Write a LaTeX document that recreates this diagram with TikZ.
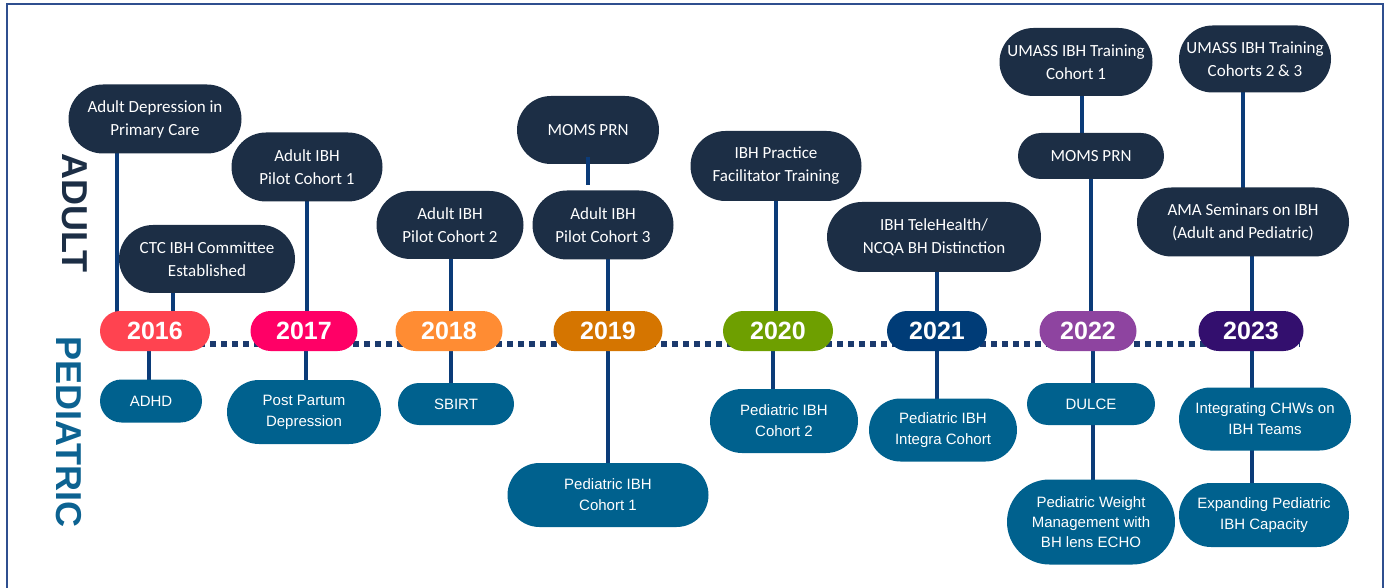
\documentclass[tikz,border=0pt]{standalone}
\usepackage{fontspec}
\usetikzlibrary{shapes.misc,backgrounds}
\newfontfamily\calf{Carlito}
\newfontfamily\arif{Liberation Sans}
\definecolor{adultc}{HTML}{1C2E45}
\definecolor{pedc}{HTML}{00618E}
\definecolor{linec}{HTML}{0B3B78}
\definecolor{dotc}{HTML}{1B3A6D}
\definecolor{framec}{HTML}{2F4F8F}
\definecolor{pedtext}{HTML}{0C6291}
\definecolor{c16}{HTML}{FF4350}
\definecolor{c17}{HTML}{FF0066}
\definecolor{c18}{HTML}{FF8C33}
\definecolor{c19}{HTML}{D57500}
\definecolor{c20}{HTML}{6E9F00}
\definecolor{c21}{HTML}{003C77}
\definecolor{c22}{HTML}{8E44A0}
\definecolor{c23}{HTML}{330F6E}
\begin{document}
\begin{tikzpicture}[x=1pt,y=-1pt,
  pill/.style={rounded rectangle, inner sep=0pt, align=center, text=white},
  adult/.style={pill, fill=adultc, font=\calf\fontsize{17}{23}\selectfont},
  ped/.style={pill, fill=pedc, font=\arif\fontsize{15}{21}\selectfont},
  ped3/.style={pill, fill=pedc, font=\arif\fontsize{15}{20}\selectfont},
  year/.style={pill, font=\arif\bfseries\fontsize{25}{25}\selectfont, minimum height=40pt},
  conn/.style={draw=linec, line width=3.2pt},
  sz/.style 2 args={minimum width=#1pt, minimum height=#2pt},
  side/.style={font=\arif\bfseries\fontsize{36}{36}\selectfont, rotate=-90, inner sep=0pt}]
\useasboundingbox (0,0) rectangle (1385,588);
\draw[framec, line width=1.3pt] (7,588) -- (7,4) -- (1383,4) -- (1383,588);

% side labels
\node[side, text=adultc] (ladult) at (75,213) {ADULT};
\node[side, text=pedtext] (lped) at (69,432) {PEDIATRIC};

% years
\node[year, fill=c16, minimum width=110pt] (y16) at (155,331) {2016};
\node[year, fill=c17, minimum width=107pt] (y17) at (304,331) {2017};
\node[year, fill=c18, minimum width=107pt] (y18) at (449,331) {2018};
\node[year, fill=c19, minimum width=109pt] (y19) at (608,331) {2019};
\node[year, fill=c20, minimum width=110pt] (y20) at (778,331) {2020};
\node[year, fill=c21, minimum width=100pt] (y21) at (937,331) {2021};
\node[year, fill=c22, minimum width=97pt] (y22) at (1088,331) {2022};
\node[year, fill=c23, minimum width=105pt] (y23) at (1251,331) {2023};

% adult boxes
\node[adult, sz={173}{69}] (ad1) at (155,119) {Adult Depression in\\Primary Care};
\node[adult, sz={176}{68}] (ctc) at (207,259) {CTC IBH Committee\\Established};
\node[adult, sz={151}{69}] (ap1) at (307,167) {Adult IBH\\Pilot Cohort 1};
\node[adult, sz={147}{68}] (ap2) at (450,225) {Adult IBH\\Pilot Cohort 2};
\node[adult, sz={142}{68}] (mo19) at (588,130) {MOMS PRN};
\node[adult, sz={141}{69}] (ap3) at (603,225) {Adult IBH\\Pilot Cohort 3};
\node[adult, sz={171}{70}] (ibhp) at (776,166) {IBH Practice\\Facilitator Training};
\node[adult, sz={214}{70}] (tele) at (934,237) {IBH TeleHealth/\\NCQA BH Distinction};
\node[adult, sz={153}{68}] (um1) at (1076,62) {UMASS IBH Training\\Cohort 1};
\node[adult, sz={146}{46}] (mo22) at (1091,156) {MOMS PRN};
\node[adult, sz={152}{67}] (um23) at (1255,59) {UMASS IBH Training\\Cohorts 2 \& 3};
\node[adult, sz={212}{69}] (ama) at (1243,222) {AMA Seminars on IBH\\(Adult and Pediatric)};

% pediatric boxes
\node[ped, sz={102}{43}] (adhd) at (151,401) {ADHD};
\node[ped, sz={154}{64}] (ppd) at (304,412) {Post Partum\\Depression};
\node[ped, sz={116}{42}] (sbirt) at (456,404) {SBIRT};
\node[ped, sz={201}{64}] (pc1) at (608,495) {Pediatric IBH\\Cohort 1};
\node[ped, sz={148}{64}] (pc2) at (784,421) {Pediatric IBH\\Cohort 2};
\node[ped, sz={148}{63}] (integ) at (943,430) {Pediatric IBH\\Integra Cohort};
\node[ped, sz={128}{42}] (dulce) at (1091,404) {DULCE};
\node[ped3, sz={168}{85}] (pwm) at (1091,522) {Pediatric Weight\\Management with\\BH lens ECHO};
\node[ped, sz={172}{63}] (chw) at (1265,419) {Integrating CHWs on\\IBH Teams};
\node[ped, sz={170}{64}] (expd) at (1264,515) {Expanding Pediatric\\IBH Capacity};

% short MOMS PRN link (drawn over, with a gap as in the original)
\draw[conn] ([yshift=7pt]mo19.south) -- ([yshift=5pt]ap3.north -| mo19.south);

\begin{scope}[on background layer]
  \draw[dotc, line width=6pt, dash pattern=on 6pt off 5pt]
    ([yshift=-13pt]y16.center) -- ([yshift=-13pt,xshift=-4pt]y23.east);
  % 2016
  \draw[conn] ([xshift=-38pt]ad1.center) -- ([xshift=-38pt]ad1.center |- y16.center);
  \draw[conn] ([xshift=-34pt]ctc.center) -- ([xshift=-34pt]ctc.center |- y16.center);
  \draw[conn] ([xshift=-2pt]adhd.center) -- ([xshift=-2pt]adhd.center |- y16.center);
  % 2017
  \draw[conn] (ap1.center) -- (ap1.center |- y17.center);
  \draw[conn] ([xshift=2pt]ppd.center) -- ([xshift=2pt]ppd.center |- y17.center);
  % 2018
  \draw[conn] ([xshift=1pt]ap2.center) -- ([xshift=1pt]ap2.center |- sbirt.center);
  % 2019
  \draw[conn] ([xshift=5pt]ap3.center) -- ([xshift=5pt]ap3.center |- y19.center);
  \draw[conn] (y19.center) -- (y19.center |- pc1.center);
  % 2020
  \draw[conn] (ibhp.center) -- (ibhp.center |- y20.center);
  \draw[conn] ([xshift=-11pt]pc2.center) -- ([xshift=-11pt]pc2.center |- y20.center);
  % 2021
  \draw[conn] ([xshift=3pt]tele.center) -- ([xshift=3pt]tele.center |- integ.center);
  % 2022
  \draw[conn] ([xshift=6pt]um1.center) -- ([xshift=6pt]um1.center |- mo22.center);
  \draw[conn] (mo22.center) -- (mo22.center |- y22.center);
  \draw[conn] ([xshift=2pt]dulce.center) -- ([xshift=2pt]dulce.center |- y22.center);
  \draw[conn] ([xshift=2pt]dulce.center) -- ([xshift=2pt]dulce.center |- pwm.center);
  % 2023
  \draw[conn] (um23.center -| ama.center) -- (ama.center);
  \draw[conn] ([xshift=9pt]ama.center) -- ([xshift=9pt]ama.center |- y23.center);
  \draw[conn] ([xshift=-13pt]chw.center) -- ([xshift=-13pt]chw.center |- y23.center);
  \draw[conn] ([xshift=-13pt]chw.center) -- ([xshift=-13pt]chw.center |- expd.center);
\end{scope}
\end{tikzpicture}
\end{document}
